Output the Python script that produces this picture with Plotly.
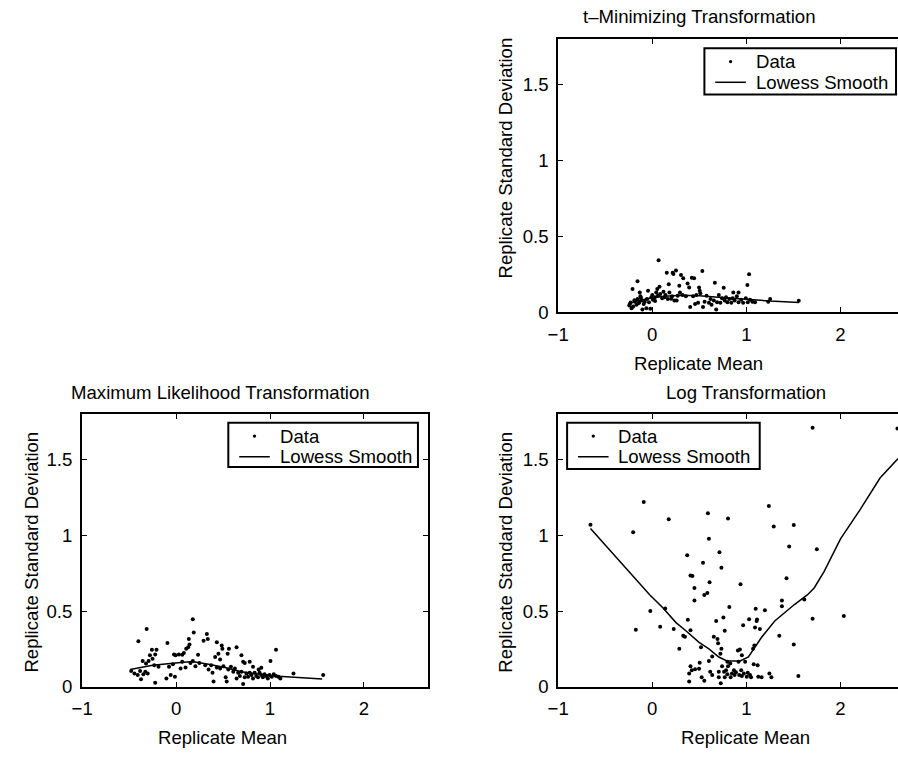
import plotly.graph_objects as go

W, H = 898, 758

# ---------------- t-Minimizing Transformation ----------------
tm_x = [0.067, 0.252, 0.154, 0.217, 0.224, 0.305, 0.329, 0.420, 0.445, 0.532,
        -0.157, -0.210, -0.133, -0.045, 0.053, 0.077, 0.175, 0.287, 0.375, 0.392,
        0.497, 0.504, 0.665, 0.759, 0.861, 0.917, 1.011, 1.029, -0.238, -0.220,
        -0.203, -0.185, -0.168, -0.157, -0.140, -0.126, -0.115, -0.105, -0.091, -0.063,
        -0.056, -0.035, -0.021, 0.000, 0.007, 0.028, 0.042, 0.060, 0.084, 0.105,
        0.119, 0.140, 0.165, 0.182, 0.210, 0.235, 0.259, 0.270, 0.294, 0.322,
        0.357, 0.403, 0.434, 0.455, 0.469, 0.487, 0.511, 0.539, 0.556, 0.577,
        0.602, 0.619, 0.630, 0.654, 0.679, 0.689, 0.707, 0.724, 0.742, 0.770,
        0.784, 0.798, 0.819, 0.840, 0.854, 0.875, 0.899, 0.917, 0.945, 0.966,
        0.994, 1.015, 1.039, 1.064, 1.092, 1.232, 1.253, 1.557,
        -0.245, -0.230, -0.190, -0.150, -0.120, -0.080, -0.010, 0.030, 0.130, 0.200]
tm_y = [0.344, 0.277, 0.262, 0.262, 0.253, 0.247, 0.225, 0.229, 0.225, 0.273,
        0.206, 0.154, 0.132, 0.143, 0.154, 0.169, 0.186, 0.175, 0.190, 0.165,
        0.165, 0.143, 0.195, 0.162, 0.132, 0.132, 0.180, 0.251, 0.056, 0.028,
        0.039, 0.071, 0.050, 0.089, 0.063, 0.106, 0.078, 0.019, 0.056, 0.028,
        0.089, 0.067, 0.024, 0.115, 0.084, 0.100, 0.132, 0.110, 0.121, 0.093,
        0.136, 0.115, 0.089, 0.132, 0.106, 0.078, 0.078, 0.110, 0.132, 0.115,
        0.106, 0.035, 0.106, 0.056, 0.115, 0.063, 0.126, 0.035, 0.071, 0.110,
        0.063, 0.089, 0.050, 0.078, 0.019, 0.067, 0.115, 0.063, 0.093, 0.078,
        0.100, 0.067, 0.089, 0.063, 0.093, 0.078, 0.106, 0.067, 0.084, 0.063,
        0.093, 0.067, 0.084, 0.071, 0.067, 0.071, 0.089, 0.076,
        0.045, 0.065, 0.080, 0.060, 0.095, 0.070, 0.100, 0.075, 0.100, 0.090]
tm_lx = [-0.24, -0.17, -0.05, 0.10, 0.30, 0.50, 0.70, 0.90, 1.05, 1.25, 1.56]
tm_ly = [0.060, 0.075, 0.090, 0.105, 0.113, 0.110, 0.100, 0.090, 0.082, 0.075, 0.066]

# ---------------- Maximum Likelihood Transformation ----------------
ml_x = [0.178, 0.188, -0.313, -0.401, -0.092, 0.136, 0.143, 0.129, 0.328, 0.338,
        0.293, 0.434, 0.486, 0.493, 0.644, 0.563, 0.549, -0.257, -0.278, -0.222,
        -0.208, -0.355, -0.320, -0.292, -0.250, -0.232, -0.022, -0.005, 0.030, 0.066,
        0.083, 0.108, 0.234, 0.416, 0.451, 0.469, 0.696, 0.714, 0.731, 0.784,
        0.819, 0.879, 0.907, 1.005, 1.064, -0.478, -0.443, -0.408, -0.383, -0.373,
        -0.348, -0.327, -0.302, -0.222, -0.187, -0.103, -0.075, -0.057, -0.033, -0.012,
        0.048, 0.066, 0.101, 0.153, 0.178, 0.206, 0.248, 0.311, 0.346, 0.374,
        0.388, 0.399, 0.434, 0.469, 0.504, 0.528, 0.539, 0.556, 0.584, 0.609,
        0.626, 0.644, 0.661, 0.679, 0.696, 0.714, 0.731, 0.749, 0.767, 0.784,
        0.802, 0.819, 0.837, 0.854, 0.872, 0.889, 0.907, 0.924, 0.942, 0.959,
        0.977, 0.994, 1.019, 1.040, 1.064, 1.089, 1.110, 1.250, 1.566]
ml_y = [0.446, 0.359, 0.381, 0.301, 0.290, 0.316, 0.279, 0.262, 0.348, 0.316,
        0.305, 0.294, 0.273, 0.251, 0.262, 0.251, 0.219, 0.245, 0.208, 0.214,
        0.245, 0.171, 0.154, 0.171, 0.186, 0.143, 0.214, 0.208, 0.214, 0.212,
        0.223, 0.251, 0.212, 0.197, 0.219, 0.180, 0.208, 0.165, 0.158, 0.165,
        0.132, 0.115, 0.126, 0.171, 0.245, 0.104, 0.089, 0.078, 0.104, 0.050,
        0.084, 0.100, 0.089, 0.028, 0.132, 0.056, 0.132, 0.078, 0.149, 0.067,
        0.121, 0.165, 0.128, 0.158, 0.171, 0.136, 0.158, 0.143, 0.115, 0.143,
        0.093, 0.035, 0.128, 0.121, 0.136, 0.063, 0.035, 0.115, 0.132, 0.100,
        0.121, 0.056, 0.093, 0.071, 0.100, 0.019, 0.063, 0.089, 0.067, 0.093,
        0.078, 0.056, 0.093, 0.071, 0.063, 0.093, 0.078, 0.063, 0.084, 0.071,
        0.056, 0.078, 0.067, 0.084, 0.071, 0.067, 0.056, 0.089, 0.078]
ml_lx = [-0.488, -0.25, -0.005, 0.171, 0.346, 0.521, 0.696, 0.872, 1.047, 1.257, 1.555]
ml_ly = [0.115, 0.143, 0.158, 0.168, 0.149, 0.128, 0.100, 0.084, 0.071, 0.063, 0.052]

# ---------------- Log Transformation ----------------
log_x = [-0.657, -0.203, -0.091, 0.175, -0.175, -0.021, 0.084, 0.137, 0.228, 0.287,
         0.329, 0.347, 0.371, 0.378, 0.406, 0.406, 0.427, 0.448, 0.448, 0.392,
         0.406, 0.392, 0.420, 0.455, 0.497, 0.518, 0.504, 0.525, 0.553, 0.539,
         0.553, 0.585, 0.591, 0.602, 0.609, 0.602, 0.616, 0.637, 0.637, 0.654,
         0.679, 0.693, 0.700, 0.707, 0.707, 0.714, 0.735, 0.724, 0.735, 0.742,
         0.728, 0.756, 0.763, 0.770, 0.770, 0.784, 0.798, 0.805, 0.805, 0.798,
         0.819, 0.829, 0.833, 0.847, 0.868, 0.875, 0.889, 0.910, 0.917, 0.924,
         0.931, 0.938, 0.945, 0.952, 0.966, 0.952, 0.973, 0.987, 1.004, 1.015,
         1.029, 1.039, 1.050, 1.071, 1.078, 1.085, 1.092, 1.099, 1.109, 1.113,
         1.120, 1.127, 1.144, 1.162, 1.197, 1.239, 1.245, 1.266, 1.291, 1.350,
         1.378, 1.378, 1.427, 1.455, 1.504, 1.504, 1.553, 1.616, 1.704, 1.704,
         1.749, 2.036, 2.606]
log_y = [1.069, 1.020, 1.219, 1.106, 0.377, 0.500, 0.396, 0.517, 0.381, 0.251,
         0.338, 0.331, 0.868, 0.442, 0.374, 0.734, 0.732, 0.652, 0.569, 0.089,
         0.136, 0.035, 0.110, 0.117, 0.119, 0.262, 0.160, 0.063, 0.041, 0.818,
         0.606, 0.619, 1.145, 0.976, 0.690, 0.171, 0.100, 0.201, 0.078, 0.331,
         0.435, 0.316, 0.288, 0.100, 0.063, 0.887, 0.786, 0.219, 0.251, 0.136,
         0.024, 0.457, 0.100, 0.370, 0.063, 0.110, 0.165, 1.110, 0.136, 0.084,
         0.526, 0.154, 0.063, 0.089, 0.110, 0.078, 0.097, 0.240, 0.165, 0.078,
         0.247, 0.677, 0.110, 0.208, 0.407, 0.071, 0.089, 0.165, 0.067, 0.093,
         0.446, 0.078, 0.063, 0.251, 0.149, 0.273, 0.392, 0.515, 0.435, 0.444,
         0.143, 0.067, 0.381, 0.063, 0.506, 1.193, 0.089, 0.063, 1.058, 0.338,
         0.569, 0.532, 0.716, 0.926, 1.067, 0.279, 0.071, 0.576, 1.708, 0.450,
         0.907, 0.468, 1.703]
log_lx = [-0.657, -0.342, -0.028, 0.112, 0.252, 0.357, 0.497, 0.602, 0.707, 0.794,
          0.934, 1.022, 1.092, 1.162, 1.302, 1.511, 1.651, 1.721, 1.826, 2.001,
          2.211, 2.421, 2.613]
log_ly = [1.045, 0.825, 0.608, 0.522, 0.424, 0.370, 0.294, 0.251, 0.197, 0.171,
          0.171, 0.197, 0.262, 0.327, 0.435, 0.543, 0.608, 0.652, 0.760, 0.976,
          1.171, 1.377, 1.506]

titles = ["t\u2013Minimizing Transformation", "Maximum Likelihood Transformation", "Log Transformation"]
x_label = "Replicate Mean"
y_label = "Replicate Standard Deviation"
legend_names = ["Data", "Lowess Smooth"]
x_ticks = [-1, 0, 1, 2]
y_ticks = [0, 0.5, 1, 1.5]
y_ticktext = ["0", "0.5", "1", "1.5"]

FONT = "Liberation Sans, Arial, Helvetica, sans-serif"
FS = 18.6

fig = go.Figure()

panels = [
    (tm_x, tm_y, tm_lx, tm_ly, "x", "y"),
    (ml_x, ml_y, ml_lx, ml_ly, "x2", "y2"),
    (log_x, log_y, log_lx, log_ly, "x3", "y3"),
]
for px, py, lx, ly, xa, ya in panels:
    fig.add_trace(go.Scatter(x=px, y=py, mode="markers", name=legend_names[0],
                             marker=dict(color="black", size=4),
                             xaxis=xa, yaxis=ya, showlegend=False))
    fig.add_trace(go.Scatter(x=lx, y=ly, mode="lines", name=legend_names[1],
                             line=dict(color="black", width=1.5),
                             xaxis=xa, yaxis=ya, showlegend=False))


def px2x(p):
    return p / W


def px2y(p):
    return 1 - p / H


common_x = dict(showline=True, linecolor="black", linewidth=2, mirror="allticks",
                ticks="inside", ticklen=5, tickwidth=1, tickcolor="black",
                tickvals=x_ticks, showgrid=False, zeroline=False,
                tickfont=dict(family=FONT, size=FS, color="black"),
                ticklabelstandoff=4)
common_y = dict(showline=True, linecolor="black", linewidth=2,
                ticks="inside", ticklen=5, tickwidth=1, tickcolor="black",
                tickvals=y_ticks, ticktext=y_ticktext,
                showgrid=False, zeroline=False, range=[0, 1.8],
                tickfont=dict(family=FONT, size=FS, color="black"),
                ticklabelstandoff=4)

right_dom = [px2x(554), 1.0]
left_dom = [px2x(72), px2x(422)]
top_dom = [px2y(317), px2y(40)]
bot_dom = [px2y(697), px2y(420)]

fig.update_layout(
    width=W, height=H,
    margin=dict(l=0, r=0, t=0, b=0),
    paper_bgcolor="white", plot_bgcolor="white",
    showlegend=False,
    font=dict(family=FONT, size=FS, color="black"),
    xaxis=dict(common_x, domain=right_dom, range=[-1, 2.612], anchor="y"),
    yaxis=dict(common_y, domain=top_dom, anchor="x", mirror=False),
    xaxis2=dict(common_x, domain=left_dom, range=[-1, 2.68], anchor="y2"),
    yaxis2=dict(common_y, domain=bot_dom, anchor="x2", mirror="allticks"),
    xaxis3=dict(common_x, domain=right_dom, range=[-1, 2.612], anchor="y3"),
    yaxis3=dict(common_y, domain=bot_dom, anchor="x3", mirror=False),
)

shapes = []
ann = []
# legend boxes: (left, top, right, bottom) in pixels
legend_boxes = [(702, 49, 896, 96), (220, 429, 412, 474), (563, 429, 758, 476)]
for (l, t, r, b) in legend_boxes:
    shapes.append(dict(type="rect", xref="paper", yref="paper",
                       x0=px2x(l), x1=px2x(r), y0=px2y(b), y1=px2y(t),
                       line=dict(color="black", width=2), fillcolor="white", layer="above"))
    row1 = t + 13.5
    row2 = t + 34.5
    cx = l + 26.5
    shapes.append(dict(type="circle", xref="paper", yref="paper",
                       x0=px2x(cx - 1.7), x1=px2x(cx + 1.7), y0=px2y(row1 + 1.7), y1=px2y(row1 - 1.7),
                       line=dict(color="black", width=0), fillcolor="black", layer="above"))
    shapes.append(dict(type="line", xref="paper", yref="paper",
                       x0=px2x(l + 11), x1=px2x(l + 42), y0=px2y(row2), y1=px2y(row2),
                       line=dict(color="black", width=1.5), layer="above"))
    for name, ry in zip(legend_names, [row1, row2]):
        ann.append(dict(text=name, x=px2x(l + 50), y=px2y(ry), xref="paper", yref="paper",
                        xanchor="left", yanchor="middle", showarrow=False,
                        font=dict(family=FONT, size=FS, color="black")))

# titles
for t, cx, cy in [(titles[0], 697, 17), (titles[1], 212, 398), (titles[2], 744, 398)]:
    ann.append(dict(text=t, x=px2x(cx), y=px2y(cy), xref="paper", yref="paper",
                    xanchor="center", yanchor="middle", showarrow=False,
                    font=dict(family=FONT, size=FS, color="black")))
# x labels
for cx, cy in [(696, 369), (214, 748), (744, 748)]:
    ann.append(dict(text=x_label, x=px2x(cx), y=px2y(cy), xref="paper", yref="paper",
                    xanchor="center", yanchor="middle", showarrow=False,
                    font=dict(family=FONT, size=FS, color="black")))
# y labels
for cx, cy in [(501, 160), (21, 560), (501, 560)]:
    ann.append(dict(text=y_label, x=px2x(cx), y=px2y(cy), xref="paper", yref="paper",
                    xanchor="center", yanchor="middle", showarrow=False, textangle=-90,
                    font=dict(family=FONT, size=FS, color="black")))
fig.update_layout(annotations=ann, shapes=shapes)

fig.write_html("out.html")
